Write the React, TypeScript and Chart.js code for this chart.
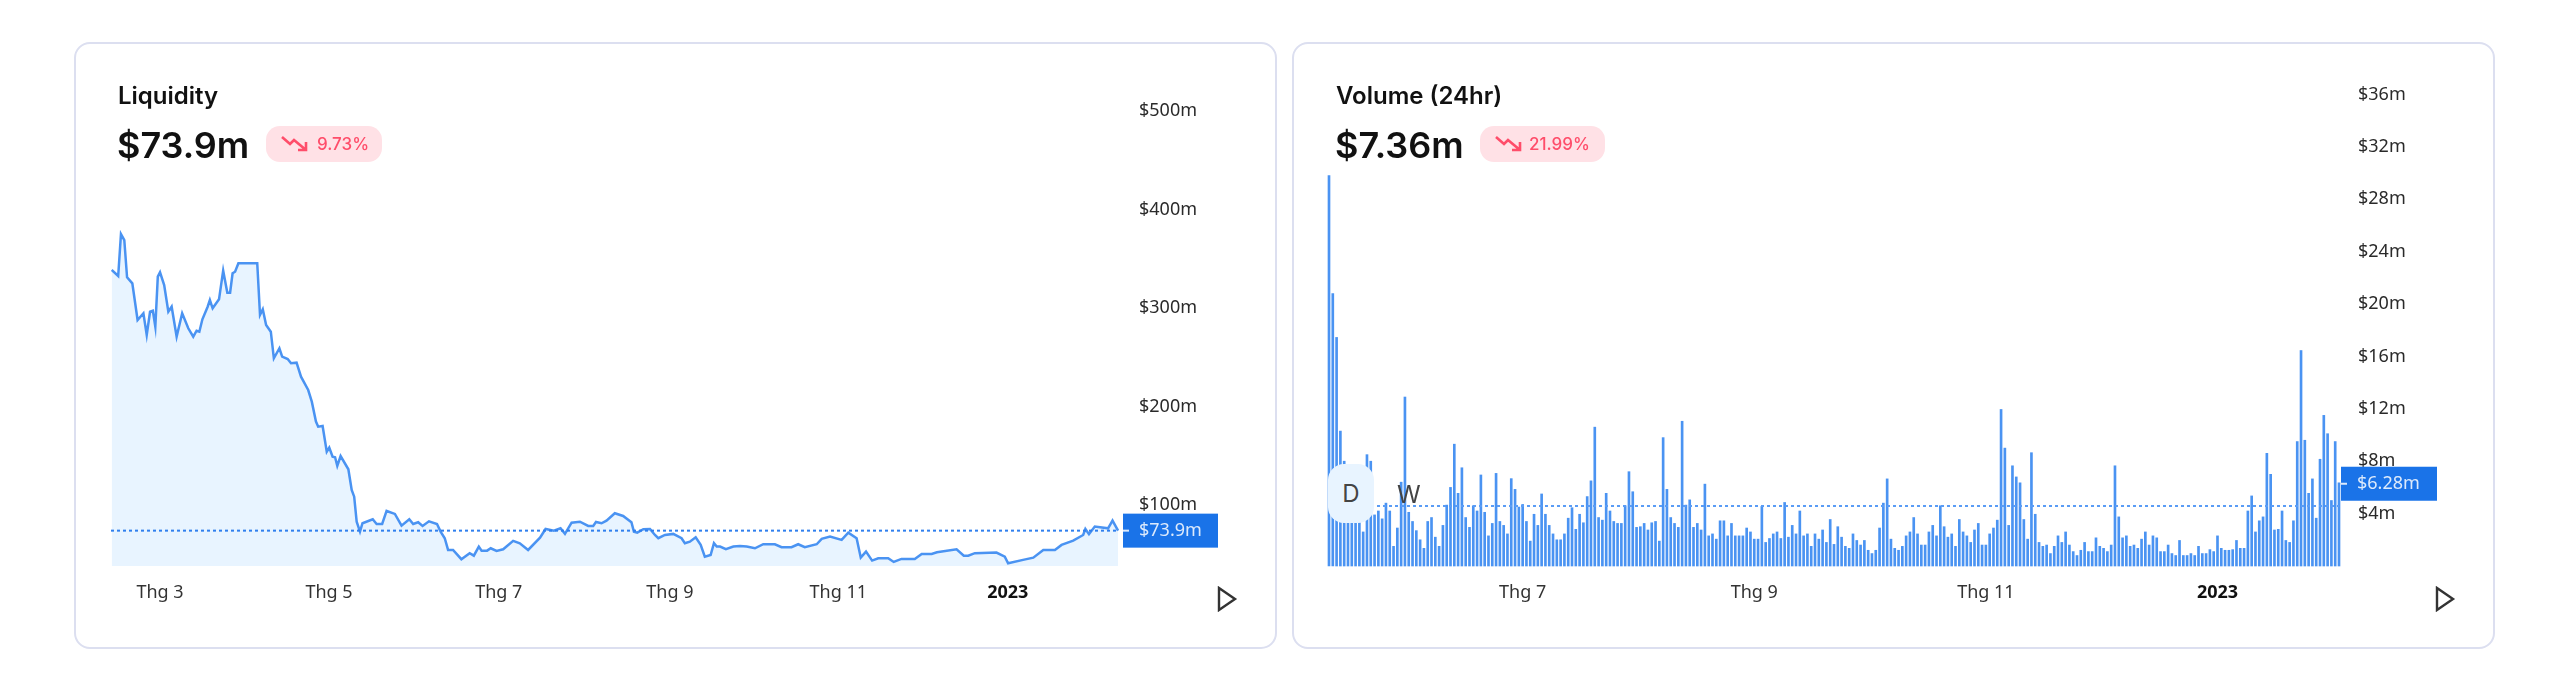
import React, { useEffect, useRef } from "react";
import { Chart, registerables } from "chart.js";

Chart.register(...registerables);

// Liquidity series: day offset from the first day of the range, value in $m
const liquidityDays = [0.25,2.6,3.6,4.8,5.8,7.7,9.6,11.7,12.9,14.1,15.1,16,16.9,17.7,19.2,20.7,21.9,23.7,25.7,27.9,29.7,30.9,31.9,33,34.9,35.7,36.7,39,40.5,42,43,43.9,44.8,46,52.8,53.8,54.8,56,57.7,58.8,60.8,61.8,63.8,65,67,68.6,71.2,72.5,74,74.8,76.4,77.9,78.8,80,80.9,81.7,82.9,85.7,86.9,87.8,88.7,89.9,90.8,94.5,95.9,97.9,99.5,102.5,104.9,107.7,109.1,110.9,112.5,114.8,117.7,119,120.5,121.7,123.5,126.5,129.5,131,132.8,133.8,135.8,137.1,139.2,141.6,145.2,147.6,150.6,154.9,156.9,159.9,162.3,163.9,166.3,169.3,172.3,174.1,175.1,177.1,178.9,181.9,184.9,187.9,188.8,190,192.2,194.6,196.4,197.6,200,203,206,207.2,209,211.1,212.9,214.4,216.5,217.7,218.7,219.9,222,224.7,227.1,229.5,232.5,235.5,239.7,242.1,245.7,248.1,250.5,254.8,256.6,259.6,263.8,266.2,269.2,270.7,272.6,274.8,277,280.6,282.6,285.4,290.2,292.7,296.3,298.2,305.3,307.9,309.5,311.9,319.7,322.7,323.9,329.3,333,336.6,340.8,343.2,347.4,351,351.8,353.1,355.2,360,361.6,363.6];
const liquidityValues = [338.6,332.5,375.1,369,331.2,325,287.8,294.6,272.6,296.2,297.3,281,331.8,336.2,323.3,296.2,301.3,270.9,294.6,279.4,270.9,276.9,275.9,288.5,301.3,308.1,299.7,308.8,337.9,315.5,315.5,335.2,336.8,345.4,345.4,292.9,298.7,282.7,275.9,248.9,259.1,250.6,248.2,243.9,244.5,230.2,216.7,204.9,184.6,179.5,180.2,154.1,158.2,149,148.4,139.6,149.7,136.2,115.2,108.4,83,72.9,81.4,85.5,80.7,80.7,93.9,90.9,79,85.5,80.7,82.4,78.7,83.4,80.7,72.9,66.2,54.3,54.3,44.9,51,48.5,57.7,53.6,53.6,56,53.3,55,63.5,61.1,54.3,66.8,75.6,73.9,76.3,70.6,82,83,78.7,78.7,82.7,81.4,84.1,91.6,88.8,82.4,72.9,71.9,75.3,75.6,69.5,66.2,69.5,70.6,66.2,61.1,62.7,67.2,59.4,47.5,49.2,61.1,57.7,57.7,55,57.7,58.4,57.7,56,60.1,60.1,57.1,57.1,60.1,57.1,60.1,65.5,67.8,64.5,71.9,66.2,46.5,52.6,43.5,45.9,45.9,42.1,45.2,45.2,50.3,50.3,52,55,48.5,48.5,51,51.6,47.5,40.8,44.2,46.5,54.3,54.3,59.4,63.8,69.5,75.6,70.3,78,76.3,84.1,73.9];
const liquidityTickDays = [17.7, 78.7, 140, 201.8, 262.6, 323.8];
const liquidityTickLabels = ["Thg 3", "Thg 5", "Thg 7", "Thg 9", "Thg 11", "2023"];
const liquidityYTicks = [100, 200, 300, 400, 500];
const liquidityCurrent = 73.9;

// Volume series in $m, one bar a day
const volumeValues = [29.8,20.8,17.45,10.3,8,5.6,5,4.6,4.8,2.6,8.5,8,3.9,4.2,3.6,4.8,4.2,1.5,2.9,6.4,12.9,4.1,3.4,2.7,2,1.35,3.4,3.7,2.2,1.5,3.1,4.65,6,9.3,5.55,7.5,3.7,2.95,4.6,4.2,6.95,4.1,2.3,3.25,7.07,3.4,3.1,2.45,6.67,5.85,4.5,4.7,3.4,1.9,3.95,3.1,5.5,3.95,3.1,2.45,2,2,2.45,3.65,4.45,2.8,3.95,3.3,5.3,6.5,10.6,3.7,3.5,5.55,4.2,3.4,3.25,3.25,4.6,7.2,5.67,2.95,3,3.25,2.75,3.3,3.4,1.9,9.8,5.85,3.7,3.25,2.95,11.05,4.65,5.05,2.95,3.25,2.75,6.25,2.3,2.45,2.05,3.45,3.45,2.3,3.25,2.3,2.3,2.3,2.9,2.6,2.05,2.05,4.55,1.8,2.1,2.45,2.6,2.1,4.85,2.2,3.1,2.45,4.2,2.3,2.45,1.5,2.45,2.05,2.75,1.8,3.55,1.65,3,2.2,1.5,1.35,2.45,1.95,1.6,1.95,1.2,0.95,1.2,2.9,4.8,6.65,2.05,1.35,1.2,1.5,2.3,2.6,3.7,2.45,1.6,1.6,2.6,3.1,2.3,4.6,3,2.2,2.45,1.5,3.55,2.6,2.3,1.8,2.75,3.25,1.6,1.6,2.45,2.9,3.5,11.95,9,3.1,7.65,6.8,6.35,3.55,2.05,8.65,3.95,1.8,1.5,1.6,0.95,1.5,2.3,1.8,2.6,1.6,1.1,0.8,1.2,1.8,1.1,1.1,2.15,1.5,1.35,1.1,1.6,7.65,3.75,2.15,2.3,1.5,1.6,1.35,2.05,2.6,1.6,2.3,2.15,1.1,1.1,1.6,0.95,0.8,1.95,0.8,0.8,0.95,0.8,1.5,0.95,0.95,1.25,1.1,2.3,1.35,1.2,1.2,1.25,1.95,1.35,1.35,4.2,5.35,2.6,3.45,3.75,8.6,7,2.75,2.8,4.2,1.95,1.8,3.45,9.5,16.45,9.6,5.55,6.65,3.65,8.15,11.5,10.1,5,9.5,6.35];
const volumeTickIndexes = [51, 112, 173, 234];
const volumeTickLabels = ["Thg 7", "Thg 9", "Thg 11", "2023"];
const volumeYTicks = [4, 8, 12, 16, 20, 24, 28, 32, 36];
const volumeAverage = 4.58;
const volumeCurrent = 6.28;

const AXIS_FONT = "'Noto Sans', sans-serif";
const BLUE = "#1a73e8";

function priceTag(text: string, value: number, boxX: number, boxW: number, boxH: number, textX: number) {
  return {
    id: "priceTag",
    afterDraw(chart: any) {
      const y = chart.scales.y.getPixelForValue(value);
      const c = chart.ctx;
      c.save();
      c.fillStyle = BLUE;
      c.fillRect(boxX, y - boxH / 2, boxW, boxH);
      c.fillStyle = "rgba(255,255,255,0.85)";
      c.fillRect(boxX, y - 1, 6, 2);
      c.font = `18px ${AXIS_FONT}`;
      c.textBaseline = "middle";
      c.textAlign = "left";
      c.fillText(text, textX, y);
      c.restore();
    },
  };
}

function axisOptions(tickValues: number[], suffix: string) {
  return {
    position: "right",
    grid: { display: false, drawTicks: false },
    border: { display: false },
    afterFit: (s: any) => {
      s.width = 156;
      s.paddingTop = 0;
      s.paddingBottom = 0;
    },
    afterBuildTicks: (s: any) => { s.ticks = tickValues.map((value) => ({ value })); },
    ticks: {
      padding: 19,
      crossAlign: "near",
      color: "#2a2a2a",
      font: { family: AXIS_FONT, size: 18 },
      callback: (v: number) => `$${v}${suffix}`,
    },
  };
}

function LiquidityChart() {
  const ref = useRef<HTMLCanvasElement>(null);
  useEffect(() => {
    const lastDay = liquidityDays[liquidityDays.length - 1];
    const chart = new Chart(ref.current!, {
      type: "line",
      data: {
        datasets: [
          {
            data: liquidityDays.map((x, i) => ({ x, y: liquidityValues[i] })),
            borderColor: "#4a93f2",
            borderWidth: 2.5,
            backgroundColor: "#e8f4ff",
            fill: "start",
            pointRadius: 0,
            tension: 0,
            order: 1,
          },
          {
            data: [{ x: 0, y: liquidityCurrent }, { x: lastDay, y: liquidityCurrent }],
            borderColor: "#2f7fee",
            borderWidth: 2,
            borderDash: [3, 3],
            pointRadius: 0,
            fill: false,
            order: 0,
          },
        ],
      },
      options: {
        animation: false,
        responsive: false,
        layout: { autoPadding: false, padding: { left: 37, top: 18, right: 0, bottom: 0 } },
        plugins: { legend: { display: false }, tooltip: { enabled: false } },
        scales: {
          x: {
            type: "linear",
            min: 0,
            max: 364.3,
            grid: { display: false, drawTicks: false },
            border: { display: false },
            afterFit: (s: any) => { s.height = 82; },
            afterBuildTicks: (s: any) => { s.ticks = liquidityTickDays.map((value) => ({ value })); },
            ticks: {
              autoSkip: false,
              maxRotation: 0,
              padding: 16,
              color: (ctx: any) => (ctx.tick && ctx.tick.value === liquidityTickDays[5] ? "#111" : "#333"),
              font: (ctx: any) => ({
                family: AXIS_FONT,
                size: 18,
                weight: ctx.tick && ctx.tick.value === liquidityTickDays[5] ? "bold" : "normal",
              }),
              callback: (v: number) => liquidityTickLabels[liquidityTickDays.indexOf(v)],
            },
          },
          y: { ...axisOptions(liquidityYTicks, "m"), min: 38, max: 551.8 },
        },
      },
      plugins: [priceTag("$73.9m", liquidityCurrent, 1049, 95, 34, 1065)],
    } as any);
    return () => chart.destroy();
  }, []);
  return <canvas ref={ref} width={1202} height={606} style={{ position: "absolute", left: 0, top: 0 }} />;
}

function VolumeChart() {
  const ref = useRef<HTMLCanvasElement>(null);
  useEffect(() => {
    const labels = volumeValues.map((_, i) => String(i));
    const chart = new Chart(ref.current!, {
      type: "bar",
      data: {
        labels,
        datasets: [
          {
            type: "line",
            data: volumeValues.map(() => volumeAverage),
            borderColor: "#5a9cf5",
            borderWidth: 2,
            borderDash: [3, 3],
            pointRadius: 0,
            fill: false,
            order: 0,
          },
          {
            type: "bar",
            data: volumeValues,
            backgroundColor: "#4a93f2",
            barThickness: 2,
            clip: false,
            order: 1,
          },
        ],
      },
      options: {
        animation: false,
        responsive: false,
        layout: { autoPadding: false, padding: { left: 36, top: 18, right: 0, bottom: 0 } },
        plugins: { legend: { display: false }, tooltip: { enabled: false } },
        scales: {
          x: {
            type: "category",
            offset: false,
            grid: { display: false, drawTicks: false },
            border: { display: false },
            afterFit: (s: any) => { s.height = 82; },
            afterBuildTicks: (s: any) => { s.ticks = volumeTickIndexes.map((value) => ({ value })); },
            ticks: {
              autoSkip: false,
              maxRotation: 0,
              padding: 16,
              color: (ctx: any) => (ctx.tick && ctx.tick.value === volumeTickIndexes[3] ? "#111" : "#333"),
              font: (ctx: any) => ({
                family: AXIS_FONT,
                size: 18,
                weight: ctx.tick && ctx.tick.value === volumeTickIndexes[3] ? "bold" : "normal",
              }),
              callback: (v: number) => volumeTickLabels[volumeTickIndexes.indexOf(v)],
            },
          },
          y: { ...axisOptions(volumeYTicks, "m"), min: 0, max: 38.63 },
        },
      },
      plugins: [priceTag("$6.28m", volumeCurrent, 1048, 96, 34, 1064)],
    } as any);
    return () => chart.destroy();
  }, []);
  return <canvas ref={ref} width={1202} height={606} style={{ position: "absolute", left: 0, top: 0 }} />;
}

function TrendArrow({ left, top }: { left: number; top: number }) {
  return (
    <svg width="28" height="18" viewBox="0 0 28 18" style={{ position: "absolute", left, top }}>
      <path d="M1 2 L9 9 L13 5 L25 15 M25 7 V15 H17" fill="none" stroke="#ff4d6a" strokeWidth="2.6" />
    </svg>
  );
}

function Play({ left }: { left: number }) {
  return (
    <svg width="22" height="26" viewBox="0 0 22 26" style={{ position: "absolute", left, top: 544 }}>
      <path d="M3 2 L19 13 L3 24 Z" fill="none" stroke="#333" strokeWidth="2.4" />
    </svg>
  );
}

function Header({ title, value, change, textLeft, badgeLeft, badgeWidth, titleLeft }: any) {
  const inter = "Inter, 'Noto Sans', sans-serif";
  return (
    <>
      <div style={{ position: "absolute", left: titleLeft, top: 39, font: `600 24px ${inter}`, color: "#111", whiteSpace: "nowrap" }}>{title}</div>
      <div style={{ position: "absolute", left: titleLeft - 1, top: 81, font: `600 36px ${inter}`, color: "#111", whiteSpace: "nowrap" }}>{value}</div>
      <div style={{ position: "absolute", left: badgeLeft, top: 84, width: badgeWidth, height: 36, borderRadius: 14, background: "#ffe1e6" }} />
      <TrendArrow left={badgeLeft + 15} top={93} />
      <div style={{ position: "absolute", left: textLeft, top: 92, font: `500 17px ${inter}`, color: "#ff4d6a", whiteSpace: "nowrap" }}>{change}</div>
    </>
  );
}

const cardStyle: React.CSSProperties = {
  position: "absolute",
  top: 42,
  height: 607,
  boxSizing: "border-box",
  border: "2px solid #dcdff0",
  borderRadius: 16,
  background: "#fff",
};

export default function App() {
  return (
    <div style={{ position: "absolute", left: 0, top: 0, width: 2560, height: 693, background: "#fff", overflow: "hidden" }}>
      <div style={{ ...cardStyle, left: 74, width: 1203 }} />
      <div style={{ position: "absolute", left: 74, top: 42, width: 1202, height: 606 }}>
        <LiquidityChart />
        <Header title="Liquidity" value="$73.9m" change="9.73%" titleLeft={44} badgeLeft={192} badgeWidth={116} textLeft={243} />
        <Play left={1142} />
      </div>
      <div style={{ ...cardStyle, left: 1292, width: 1203 }} />
      <div style={{ position: "absolute", left: 1293, top: 42, width: 1202, height: 606 }}>
        <VolumeChart />
        <Header title="Volume (24hr)" value="$7.36m" change="21.99%" titleLeft={43} badgeLeft={187} badgeWidth={125} textLeft={236} />
        <Play left={1141} />
        <div style={{ position: "absolute", left: 35, top: 422, width: 46, height: 59, borderRadius: 16, background: "#e8f4ff", font: "24px Inter, sans-serif", color: "#444", display: "flex", alignItems: "center", justifyContent: "center" }}>D</div>
        <div style={{ position: "absolute", left: 104, top: 438, font: "24px Inter, sans-serif", color: "#444" }}>W</div>
      </div>
    </div>
  );
}
